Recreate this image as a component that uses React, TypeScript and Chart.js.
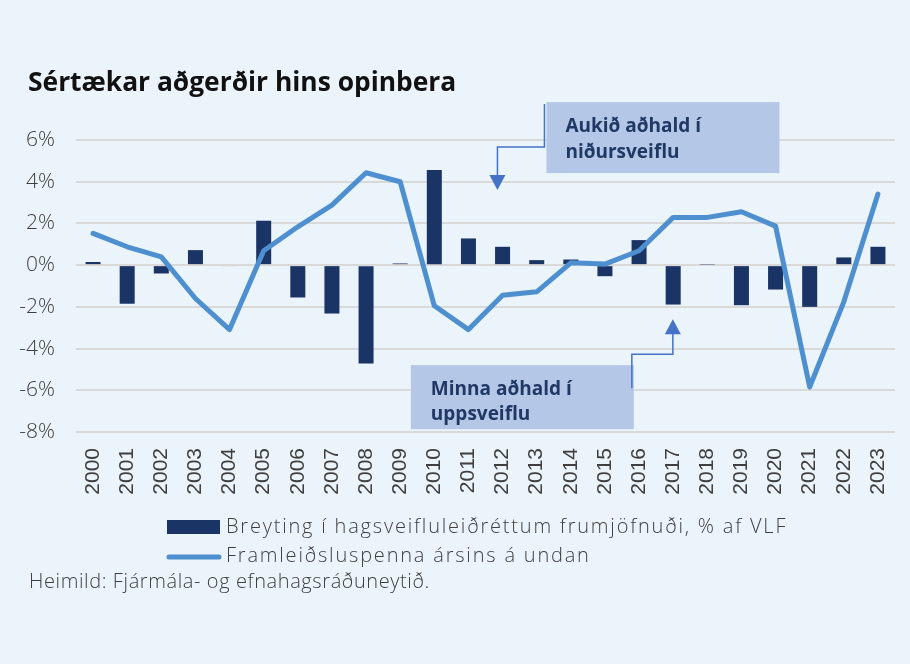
import React, { useEffect, useRef } from "react";
import { Chart, registerables } from "chart.js";

Chart.register(...registerables);

const years = ["2000", "2001", "2002", "2003", "2004", "2005", "2006", "2007", "2008", "2009", "2010", "2011", "2012", "2013", "2014", "2015", "2016", "2017", "2018", "2019", "2020", "2021", "2022", "2023"];
const fiscalChange = [0.15, -1.85, -0.4, 0.72, -0.05, 2.13, -1.55, -2.32, -4.72, 0.08, 4.56, 1.28, 0.88, 0.24, 0.27, -0.53, 1.2, -1.89, 0.03, -1.92, -1.17, -2.0, 0.37, 0.88];
const outputGap = [1.52, 0.88, 0.4, -1.6, -3.09, 0.69, 1.84, 2.88, 4.43, 4.0, -1.95, -3.09, -1.44, -1.28, 0.11, 0.05, 0.69, 2.29, 2.29, 2.56, 1.87, -5.84, -1.76, 3.41];
const yTicks = [-8, -6, -4, -2, 0, 2, 4, 6];
const titleText = "Sértækar aðgerðir hins opinbera";
const seriesNames = ["Breyting í hagsveifluleiðréttum frumjöfnuði, % af VLF", "Framleiðsluspenna ársins á undan"];
const sourceText = "Heimild: Fjármála- og efnahagsráðuneytið.";
const noteUp = ["Aukið aðhald í", "niðursveiflu"];
const noteDown = ["Minna aðhald í", "uppsveiflu"];
// anchor of the arrows (category index, value in %)
const noteUpArrow = [11.85, 3.6];
const noteDownArrow = [16.99, -2.59];

const BAR = "#1b3466";
const LINE = "#4e8fcf";
const BG = "#ebf3fb";
const TXT = "#3f3f3f";
const BOX = "#b4c7e7";
const BOXTXT = "#1f3864";
const CONN = "#4472c4";
const FONT = "'Open Sans', 'Noto Sans', sans-serif";
const XFONT = "'Liberation Sans', Arial, sans-serif";

const decorPlugin = {
  id: "decor",
  beforeDraw(chart: any) {
    const ctx = chart.ctx;
    ctx.save();
    ctx.fillStyle = BG;
    ctx.fillRect(0, 0, chart.width, chart.height);
    ctx.restore();
  },
  afterDraw(chart: any) {
    const ctx = chart.ctx;
    const xs = chart.scales.x;
    const ys = chart.scales.y;
    ctx.save();
    // title
    ctx.fillStyle = "#111111";
    ctx.textBaseline = "alphabetic";
    ctx.textAlign = "left";
    ctx.font = `bold 26.4px ${FONT}`;
    ctx.fillText(titleText, 28, 91);

    // legend
    ctx.fillStyle = BAR;
    ctx.fillRect(167, 520, 53, 14);
    ctx.strokeStyle = LINE;
    ctx.lineWidth = 5;
    ctx.lineCap = "round";
    ctx.beginPath();
    ctx.moveTo(169, 557);
    ctx.lineTo(219, 557);
    ctx.stroke();
    ctx.fillStyle = TXT;
    ctx.font = `300 20px ${FONT}`;
    ctx.letterSpacing = "1.8px";
    ctx.fillText(seriesNames[0], 226, 533);
    ctx.fillText(seriesNames[1], 226, 562);
    ctx.letterSpacing = "0.6px";
    ctx.fillText(sourceText, 29, 588);
    ctx.letterSpacing = "0px";

    // annotation 1
    const ax1 = xs.getPixelForValue(noteUpArrow[0]);
    const ay1 = ys.getPixelForValue(noteUpArrow[1]);
    ctx.fillStyle = BOX;
    ctx.fillRect(ax1 + 49, ay1 - 88, 233, 71);
    ctx.strokeStyle = CONN;
    ctx.lineWidth = 1.5;
    ctx.lineCap = "butt";
    ctx.beginPath();
    ctx.moveTo(ax1 + 47, ay1 - 86);
    ctx.lineTo(ax1 + 47, ay1 - 43);
    ctx.lineTo(ax1, ay1 - 43);
    ctx.lineTo(ax1, ay1 - 14);
    ctx.stroke();
    ctx.fillStyle = CONN;
    ctx.beginPath();
    ctx.moveTo(ax1 - 8, ay1 - 15);
    ctx.lineTo(ax1 + 8, ay1 - 15);
    ctx.lineTo(ax1, ay1);
    ctx.closePath();
    ctx.fill();
    ctx.fillStyle = BOXTXT;
    ctx.font = `bold 19px ${FONT}`;
    ctx.fillText(noteUp[0], ax1 + 68, ay1 - 58);
    ctx.fillText(noteUp[1], ax1 + 68, ay1 - 32);

    // annotation 2
    const ax2 = xs.getPixelForValue(noteDownArrow[0]);
    const ay2 = ys.getPixelForValue(noteDownArrow[1]);
    ctx.fillStyle = BOX;
    ctx.fillRect(ax2 - 262, ay2 + 46, 223, 64);
    ctx.strokeStyle = CONN;
    ctx.beginPath();
    ctx.moveTo(ax2 - 41, ay2 + 69);
    ctx.lineTo(ax2 - 41, ay2 + 35);
    ctx.lineTo(ax2, ay2 + 35);
    ctx.lineTo(ax2, ay2 + 14);
    ctx.stroke();
    ctx.fillStyle = CONN;
    ctx.beginPath();
    ctx.moveTo(ax2 - 8, ay2 + 15);
    ctx.lineTo(ax2 + 8, ay2 + 15);
    ctx.lineTo(ax2, ay2);
    ctx.closePath();
    ctx.fill();
    ctx.fillStyle = BOXTXT;
    ctx.font = `bold 19px ${FONT}`;
    ctx.fillText(noteDown[0], ax2 - 242, ay2 + 76);
    ctx.fillText(noteDown[1], ax2 - 242, ay2 + 101);
    ctx.restore();
  },
};

export default function App() {
  const ref = useRef<HTMLCanvasElement | null>(null);
  useEffect(() => {
    document.body.style.margin = "0";
    const canvas = ref.current;
    if (!canvas) return;
    const chart = new Chart(canvas, {
      type: "bar",
      data: {
        labels: years,
        datasets: [
          {
            type: "line",
            label: seriesNames[1],
            data: outputGap,
            borderColor: LINE,
            backgroundColor: LINE,
            borderWidth: 5,
            pointRadius: 0,
            tension: 0,
            borderJoinStyle: "round",
            borderCapStyle: "round",
            order: 0,
          } as any,
          {
            type: "bar",
            label: seriesNames[0],
            data: fiscalChange,
            backgroundColor: BAR,
            barPercentage: 0.44,
            categoryPercentage: 1,
            order: 1,
          },
        ],
      },
      options: {
        responsive: false,
        animation: false,
        devicePixelRatio: 1,
        layout: { padding: { top: 140, right: 15, bottom: 162, left: 0 } },
        plugins: {
          legend: { display: false },
          title: { display: false },
          tooltip: { enabled: false },
        },
        scales: {
          x: {
            grid: { display: false, drawTicks: false },
            border: { display: false },
            ticks: {
              minRotation: 90,
              maxRotation: 90,
              autoSkip: false,
              padding: 16,
              color: TXT,
              font: { family: XFONT, size: 21 },
            },
            afterFit: (s: any) => {
              s.height = 70;
              s.paddingLeft = 0;
              s.paddingRight = 0;
            },
          },
          y: {
            min: -8,
            max: 6,
            afterBuildTicks: (s: any) => {
              s.ticks = yTicks.map((v) => ({ value: v }));
            },
            ticks: {
              padding: 21,
              color: TXT,
              font: { family: FONT, size: 21, weight: "300" as any },
              callback: (v: any) => `${v}%`,
            },
            grid: { color: "#d9d9d9", lineWidth: 2, drawTicks: false },
            border: { display: false },
            afterFit: (s: any) => {
              s.width = 76;
            },
          },
        },
      },
      plugins: [decorPlugin],
    });
    return () => chart.destroy();
  }, []);
  return (
    <div style={{ width: 910, height: 664 }}>
      <canvas ref={ref} width={910} height={664} style={{ display: "block" }} />
    </div>
  );
}
